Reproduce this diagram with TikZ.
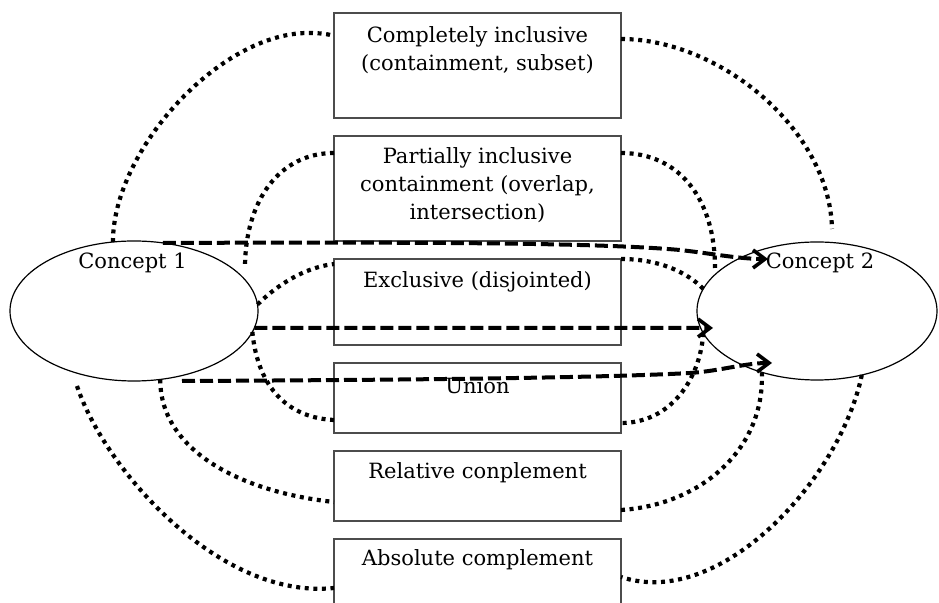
\documentclass[tikz,border=0pt]{standalone}
\usepackage{fontspec}
\setmainfont{DejaVu Serif}
\usetikzlibrary{shapes.geometric,arrows.meta}
\begin{document}
\begin{tikzpicture}[x=0.5pt,y=-0.5pt,
  box/.style={draw=black!70,line width=0.7pt,minimum width=143.5pt,inner sep=0pt,outer sep=0pt},
  oval/.style={draw,ellipse,line width=0.6pt,inner sep=0pt,outer sep=0pt},
  lbl/.style={font=\fontsize{10.5}{14}\selectfont,align=center,inner sep=0pt},
  dotline/.style={line width=2.1pt,dash pattern=on 2pt off 2.3pt},
  dashline/.style={line width=2pt,dash pattern=on 6.5pt off 2.5pt,-{Straight Barb[length=6pt,width=9pt,line width=1.8pt]}},
]
\useasboundingbox (0,0) rectangle (939,603);
\clip (0,0) rectangle (939,603);
% boxes
\node[box,minimum height=52.5pt] (b1) at (477.5,65.5) {};
\node[box,minimum height=52.5pt] (b2) at (477.5,188.5) {};
\node[box,minimum height=43pt] (b3) at (477.5,302) {};
\node[box,minimum height=35pt] (b4) at (477.5,398) {};
\node[box,minimum height=35pt] (b5) at (477.5,486) {};
\node[box,minimum height=49pt] (b6) at (477.5,588) {};
\node[lbl] (t1) at (477.5,50) {Completely inclusive\\(containment, subset)};
\node[lbl] (t2) at (477.5,185) {Partially inclusive\\containment (overlap,\\intersection)};
\node[lbl] (t3) at (477.5,282) {Exclusive (disjointed)};
\node[lbl] (t4) at (477.5,386) {Union};
\node[lbl] (t5) at (477.5,473) {Relative conplement};
\node[lbl] (t6) at (477.5,560) {Absolute complement};
% ellipses
\node[oval,minimum width=124pt,minimum height=70pt] (e1) at (134,311) {};
\node[oval,minimum width=120pt,minimum height=69pt] (e2) at (817,311) {};
\node[lbl] (c1) at (132.5,263) {Concept 1};
\node[lbl] (c2) at (820,263) {Concept 2};
% free ends
\coordinate (fb) at (245,268);
\coordinate (ff) at (77,386);
\coordinate (fg) at (832,229);
\coordinate (fh) at (715,268);
% dotted curves, left
\draw[dotline] (e1.107) .. controls (113,150) and (220,33) .. (308,33) .. controls (320,33) and (328,34) .. ([yshift=14.75pt]b1.west);
\draw[dotline] ([yshift=17.75pt]b2.west) .. controls (280,153) and (245,200) .. (fb);
\draw[dotline] (e1.3) .. controls (272,290) and (300,268) .. ([yshift=19pt]b3.west);
\draw[dotline] (e1.350) .. controls (258,390) and (290,418) .. ([yshift=-11pt]b4.west);
\draw[dotline] (e1.291) .. controls (160,450) and (240,492) .. ([yshift=-8pt]b5.west);
\draw[dotline] (ff) .. controls (105,470) and (220,600) .. (b6.west);
% dotted curves, right
\draw[dotline] ([yshift=13.25pt]b1.east) .. controls (720,39) and (830,130) .. (fg);
\draw[dotline] ([yshift=17.75pt]b2.east) .. controls (680,153) and (715,200) .. (fh);
\draw[dotline] (b3.north east) .. controls (660,259) and (688,273) .. (e2.169);
\draw[dotline] (e2.191) .. controls (700,380) and (670,423) .. ([yshift=-12.5pt]b4.east);
\draw[dotline] (e2.228) .. controls (765,450) and (700,505) .. ([yshift=-12pt]b5.east);
\draw[dotline] (e2.305) .. controls (840,480) and (720,610) .. ([yshift=5.5pt]b6.east);
% dashed arrows
\draw[dashline] (e1.67) .. controls (450,242) and (600,243) .. (680,250) .. controls (715,254) and (740,259) .. ([xshift=-24.5pt,yshift=26pt]e2.center);
\draw[dashline] (e1.352) -- ([xshift=-52pt,yshift=-8.5pt]e2.center);
\draw[dashline] ([xshift=24pt]e1.south) .. controls (400,380) and (600,378) .. (690,373) .. controls (720,371) and (745,363) .. ([xshift=-22.5pt,yshift=-26pt]e2.center);
\end{tikzpicture}
\end{document}
